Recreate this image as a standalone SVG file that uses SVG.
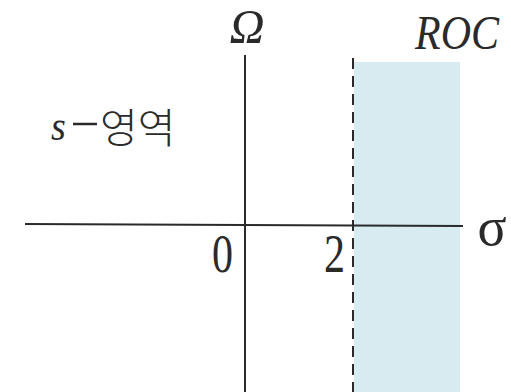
<svg xmlns="http://www.w3.org/2000/svg" width="511" height="392" viewBox="0 0 511 392">
<style>
.ax{stroke:#2a2a2a;stroke-width:2;fill:none}
.t{font-family:"Liberation Serif",serif;fill:#2a2a2a}
.it{font-style:italic}
</style>
<rect width="511" height="392" fill="#fff"/>
<g id="roc-region">
<rect x="354" y="62" width="106" height="330" fill="#d7ebf1"/>
</g>
<g id="connectors">
<line class="ax" x1="245" y1="55" x2="245" y2="392"/>
<line class="ax" x1="25" y1="224" x2="463" y2="226"/>
<line class="ax" x1="353" y1="58" x2="353" y2="392" stroke-dasharray="11 7"/>
</g>
<g id="labels">
<text class="t it" transform="translate(247,43) scale(1.1,1.1)" font-size="44" text-anchor="middle">Ω</text>
<text class="t it" transform="translate(499,49) scale(1,1.15)" font-size="42" text-anchor="end">ROC</text>
<text class="t" x="492" y="245" font-size="54" text-anchor="middle">σ</text>
<text class="t" transform="translate(233,272) scale(1,1.3)" font-size="42" text-anchor="end">0</text>
<text class="t" transform="translate(345,272) scale(1,1.3)" font-size="42" text-anchor="end">2</text>
<text class="t it" transform="translate(51,140) scale(1,1.1)" font-size="38">s</text>
<line x1="73" y1="124" x2="97" y2="124" stroke="#2a2a2a" stroke-width="2.5"/>
<text x="100" y="143" font-size="41" font-family="'Noto Sans CJK KR',sans-serif" font-weight="300" fill="#2a2a2a">영역</text>
</g>
</svg>
